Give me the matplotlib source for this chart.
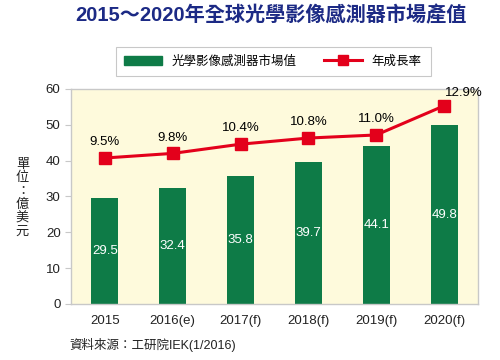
import matplotlib
matplotlib.use("Agg")
import matplotlib.pyplot as plt
from matplotlib.lines import Line2D
from matplotlib.patches import Patch

plt.rcParams['font.family'] = ['Liberation Sans', 'Noto Sans CJK TC', 'DejaVu Sans']

# data
years = ['2015', '2016(e)', '2017(f)', '2018(f)', '2019(f)', '2020(f)']
market = [29.5, 32.4, 35.8, 39.7, 44.1, 49.8]
growth = [9.5, 9.8, 10.4, 10.8, 11.0, 12.9]

green = '#0e7b47'
red = '#e3001b'
bg = '#fefadc'
spine_c = '#c8c8c8'

fig = plt.figure(figsize=(5, 3.6), dpi=100)
ax = fig.add_axes([0.142, 0.156, 0.814, 0.597])
ax.set_facecolor(bg)

x = list(range(len(years)))
ax.bar(x, market, width=0.4, color=green, zorder=2)
for xi, v in zip(x, market):
    ax.text(xi, v / 2, f'{v:.1f}', color='white', ha='center', va='center', fontsize=9.5, zorder=3)

ax.set_xlim(-0.5, len(years) - 0.5)
ax.set_ylim(0, 60)
ax.set_yticks(range(0, 61, 10))
ax.set_xticks(x)
ax.set_xticklabels(years)
ax.tick_params(axis='both', labelsize=9.5, colors='#222222', length=4)
ax.tick_params(axis='x', length=0, pad=8)
ax.tick_params(axis='y', color=spine_c)
for s in ax.spines.values():
    s.set_color(spine_c)
    s.set_linewidth(1)

# growth rate on a hidden secondary scale
ax2 = ax.twinx()
ax2.set_ylim(0, 14)
ax2.plot(x, growth, color=red, lw=2.2, marker='s', markersize=8, zorder=4)
ax2.set_yticks([])
for s in ax2.spines.values():
    s.set_visible(False)
for xi, g in zip(x, growth):
    if xi == len(x) - 1:
        ax2.annotate(f'{g:.1f}%', (xi, g), xytext=(14, 5), textcoords='offset points',
                     ha='center', va='bottom', fontsize=9.5)
    else:
        ax2.annotate(f'{g:.1f}%', (xi, g), xytext=(0, 7), textcoords='offset points',
                     ha='center', va='bottom', fontsize=9.5)

# stacked vertical unit label
ylabel_chars = ['單', '位', '：', '億', '美', '元']
for i, ch in enumerate(ylabel_chars):
    fig.text(0.045, 0.543 - i * 0.0375, ch, ha='center', va='center', fontsize=9.5, color='#222222')

fig.text(0.542, 0.957, '2015～2020年全球光學影像感測器市場產值', ha='center', va='center',
         fontsize=14.5, fontweight='bold', color='#1c2a85')

handles = [Patch(facecolor=green, edgecolor=green),
           Line2D([0], [0], color=red, lw=2.2, marker='s', markersize=7)]
leg = fig.legend(handles, ['光學影像感測器市場值', '年成長率'], loc='center',
                 bbox_to_anchor=(0.546, 0.829), ncol=2, frameon=True, fancybox=False,
                 fontsize=9, handlelength=3.0, columnspacing=2.2, borderpad=0.7,
                 handletextpad=0.8)
leg.get_frame().set_edgecolor('#bbbbbb')
leg.get_frame().set_linewidth(0.8)

fig.text(0.138, 0.042, '資料來源：工研院IEK(1/2016)', ha='left', va='center', fontsize=9, color='#222222')

fig.savefig('out.png', dpi=100, facecolor='white')
